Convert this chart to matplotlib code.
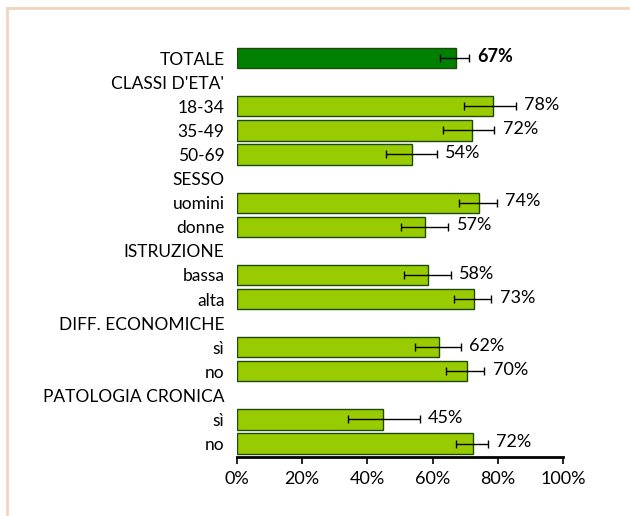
import matplotlib.pyplot as plt
import numpy as np
from matplotlib.lines import Line2D

plt.rcParams["font.family"] = ["Lato", "DejaVu Sans"]

# rows from top to bottom; group headers have no bar
categories = ["TOTALE", "CLASSI D'ETA'", "18-34", "35-49", "50-69",
              "SESSO", "uomini", "donne", "ISTRUZIONE", "bassa", "alta",
              "DIFF. ECONOMICHE", "sì", "no", "PATOLOGIA CRONICA", "sì", "no"]
values = [67.0, None, 78.4, 71.9, 53.8, None, 74.3, 57.5, None, 58.5, 72.8,
          None, 61.9, 70.4, None, 44.9, 72.5]
ci_low = [62.2, None, 69.7, 63.3, 45.7, None, 68.0, 50.4, None, 51.1, 66.5,
          None, 54.5, 64.1, None, 33.9, 67.1]
ci_high = [71.1, None, 85.5, 78.9, 61.3, None, 79.6, 64.8, None, 65.6, 78.0,
           None, 68.6, 75.8, None, 56.0, 76.9]
value_labels = ["67%", None, "78%", "72%", "54%", None, "74%", "57%", None,
                "58%", "73%", None, "62%", "70%", None, "45%", "72%"]

fig = plt.figure(figsize=(6.3, 5.16), dpi=100)
ax = fig.add_axes([0.376, 0.1143, 0.518, 0.802])

for i, (v, lo, hi, lab) in enumerate(zip(values, ci_low, ci_high, value_labels)):
    if v is None:
        continue
    color = "#008000" if i == 0 else "#99CC00"
    ax.barh(i, v, height=0.84, color=color, edgecolor="#1E4A08", linewidth=1)
    ax.errorbar(v, i, xerr=[[v - lo], [hi - v]], fmt="none", ecolor="black",
                elinewidth=1, capsize=3, capthick=1)
    ax.annotate(lab, (hi, i), xytext=(6, 1), textcoords="offset points",
                va="center", ha="left", fontsize=13,
                fontweight="bold" if i == 0 else "normal")

ax.set_ylim(16.56, -0.62)
ax.set_xlim(0, 100)
ax.set_yticks(range(len(categories)))
ax.set_yticklabels(categories, fontsize=12.5)
ax.tick_params(axis="y", length=0, pad=9)
ax.set_xticks(np.arange(0, 101, 20))
ax.set_xticklabels([f"{t}%" for t in range(0, 101, 20)], fontsize=13)
ax.tick_params(axis="x", direction="out", length=5, width=1.2, pad=5)
for s in ["top", "right", "left"]:
    ax.spines[s].set_visible(False)
ax.spines["bottom"].set_linewidth(2)

# light frame on the left and top of the picture
border = "#F2D4C0"
fig.add_artist(Line2D([7 / 630, 7 / 630], [0, 1 - 8 / 516], color=border, lw=2))
fig.add_artist(Line2D([7 / 630, 1], [1 - 8 / 516, 1 - 8 / 516], color=border, lw=2))

fig.savefig("out.png", dpi=100)
